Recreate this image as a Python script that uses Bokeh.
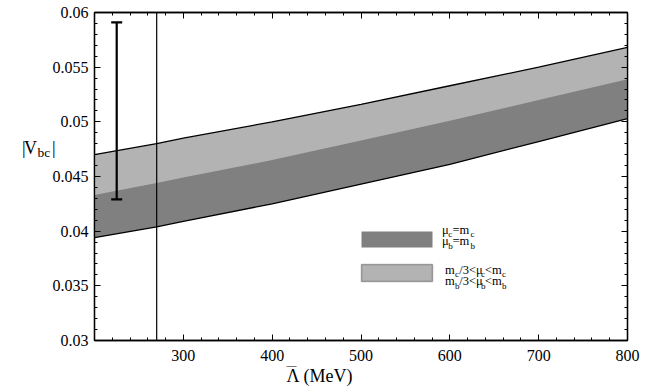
from bokeh.plotting import figure
from bokeh.models import (FixedTicker, LinearAxis, Span, Whisker, ColumnDataSource,
                          Label, BoxAnnotation, Range1d, TeeHead, Title)
from bokeh.embed import file_html
from bokeh.resources import INLINE

# ---- data ----
lam = [200, 270, 300, 400, 500, 600, 700, 800]
v_upper = [0.0470, 0.0480, 0.0485, 0.0500, 0.0516, 0.0533, 0.0550, 0.0568]
v_mid = [0.0433, 0.0444, 0.0449, 0.0465, 0.0483, 0.0501, 0.0520, 0.0539]
v_lower = [0.0394, 0.0404, 0.0409, 0.0425, 0.0443, 0.0461, 0.0482, 0.0503]

exp_lam = [225]
exp_low = [0.0429]
exp_high = [0.0591]
lam_cut = 270

x_ticks = [300, 400, 500, 600, 700, 800]
x_tick_labels = ["300", "400", "500", "600", "700", "800"]
x_minor = list(range(200, 801, 20))
y_ticks = [0.03, 0.035, 0.04, 0.045, 0.05, 0.055, 0.06]
y_tick_labels = ["0.03", "0.035", "0.04", "0.045", "0.05", "0.055", "0.06"]
y_minor = [round(0.03 + 0.001 * i, 4) for i in range(31)]

LIGHT = "#b3b3b3"
DARK = "#808080"
FONT = "Liberation Serif"

# ---- geometry (canvas starts at page top-left) ----
W, H = 656, 390
BL, BR, BT, BB = 94, 29, 12, 50
X0, X1 = BL, W - BR
Y0, Y1 = BT, H - BB
XMIN, XMAX, YMIN, YMAX = 200, 800, 0.03, 0.06


def px2x(px):
    return XMIN + (px - X0) / (X1 - X0) * (XMAX - XMIN)


def py2y(py):
    return YMAX - (py - Y0) / (Y1 - Y0) * (YMAX - YMIN)


p = figure(width=W, height=H, x_range=Range1d(XMIN, XMAX), y_range=Range1d(YMIN, YMAX),
           output_backend="svg", toolbar_location=None,
           min_border_left=BL, min_border_right=BR, min_border_top=BT, min_border_bottom=BB)
p.grid.visible = False
p.outline_line_color = "black"
p.outline_line_width = 1.3
p.background_fill_color = "white"
p.border_fill_color = "white"


def style(ax, labels=True, ticks=None, minor=None, overrides=None):
    ax.ticker = FixedTicker(ticks=ticks, minor_ticks=minor)
    ax.axis_line_color = "black"
    ax.axis_line_width = 1.3
    ax.major_tick_in = 6
    ax.major_tick_out = 0
    ax.minor_tick_in = 3
    ax.minor_tick_out = 0
    ax.major_tick_line_color = "black"
    ax.minor_tick_line_color = "black"
    ax.major_tick_line_width = 1
    ax.minor_tick_line_width = 1
    if labels:
        ax.major_label_text_font = FONT
        ax.major_label_text_font_size = "16px"
        ax.major_label_text_color = "black"
        ax.major_label_overrides = overrides
    else:
        ax.major_label_text_font_size = "0px"
        ax.major_label_text_color = None
        ax.major_label_standoff = 0


style(p.xaxis[0], True, x_ticks, x_minor, {t: s for t, s in zip(x_ticks, x_tick_labels)})
p.xaxis[0].major_label_standoff = 9
style(p.yaxis[0], True, y_ticks, y_minor, {t: s for t, s in zip(y_ticks, y_tick_labels)})
p.yaxis[0].major_label_standoff = 6

top = LinearAxis()
style(top, False, x_ticks, x_minor)
p.add_layout(top, "above")
right = LinearAxis()
style(right, False, y_ticks, y_minor)
p.add_layout(right, "right")

# x-axis title, placed as a title below the axis
p.add_layout(Title(text="Λ (MeV)", align="left", offset=286 - X0, standoff=0,
                   text_font=FONT, text_font_size="18px", text_font_style="normal",
                   text_color="black"), "below")

# ---- bands ----
p.varea(x=lam, y1=v_lower, y2=v_upper, fill_color=LIGHT)
p.varea(x=lam, y1=v_lower, y2=v_mid, fill_color=DARK)
p.line(lam, v_upper, line_color="black", line_width=1.3)
p.line(lam, v_lower, line_color="black", line_width=1.3)

p.add_layout(Span(location=lam_cut, dimension="height", line_color="black", line_width=1.2))

src = ColumnDataSource(dict(x=exp_lam, lo=exp_low, hi=exp_high))
wh = Whisker(source=src, base="x", lower="lo", upper="hi", dimension="height",
             line_color="black", line_width=2.2,
             upper_head=TeeHead(size=11, line_width=2.2, line_color="black"),
             lower_head=TeeHead(size=11, line_width=2.2, line_color="black"))
wh.level = "overlay"
p.add_layout(wh)

# ---- legend ----
p.add_layout(BoxAnnotation(left=px2x(361), right=px2x(432), top=py2y(231), bottom=py2y(247),
                           fill_color=DARK, fill_alpha=1, line_color=None))
p.add_layout(BoxAnnotation(left=px2x(361), right=px2x(432), top=py2y(264), bottom=py2y(281),
                           fill_color=LIGHT, fill_alpha=1, line_color="black", line_width=1.5))

LIFT = 0.33  # observed vertical shift of the rendered text, in em


def piece(txt, px, py, fs, place=None):
    lab = Label(x=px2x(px), y=py2y(py - LIFT * fs), text=txt, text_font=FONT,
                text_font_size=f"{fs}px", text_color="black",
                text_baseline="alphabetic", text_align="left")
    if place is None:
        lab.level = "overlay"
        p.add_layout(lab)
    else:
        p.add_layout(lab, place)


MAIN, SUB, DROP = 12.5, 9, 3
# legend row 1/2 : mu_c = m_c, mu_b = m_b
for base, s in ((233.5, "c"), (245.0, "b")):
    piece("μ", 441.5, base, MAIN)
    piece(s, 447.8, base + DROP, SUB)
    piece("=m", 452.0, base, MAIN)
    piece(s, 470.0, base + DROP, SUB)
# legend row 3/4 : m/3 < mu < m
for base, s in ((273.5, "c"), (285.0, "b")):
    piece("m", 444.5, base, MAIN)
    piece(s, 454.6, base + DROP, SUB)
    piece("/3<μ", 458.8, base, MAIN)
    piece(s, 480.5, base + DROP, SUB)
    piece("<m", 484.5, base, MAIN)
    piece(s, 501.5, base + DROP, SUB)

# y-axis title |V_bc| (kept in the left side panel so it is not clipped by the frame)
piece("|", 21.5, 153.5, 18, "left")
piece("V", 23.5, 153.5, 18, "left")
piece("bc", 37.0, 156.5, 13.5, "left")
piece("|", 51.5, 153.5, 18, "left")

# overline of the Lambda in the x-axis title
piece("—", 286.0, 368.5, 10, "right")

open("out.html", "w").write(file_html(p, INLINE))
